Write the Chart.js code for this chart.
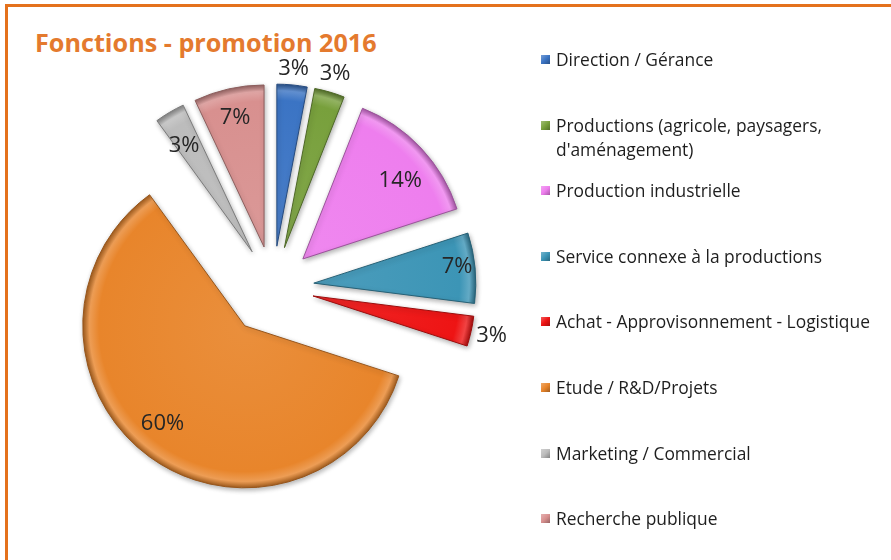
<!DOCTYPE html>
<html lang="fr">
<head>
  <meta charset="UTF-8">
  <title>Fonctions - promotion 2016</title>
  <script src="https://cdn.jsdelivr.net/npm/chart.js"></script>
  <style>
    body {
      margin: 0;
      background: #fff;
      font-family: 'Open Sans', Lato, sans-serif;
    }

    #page {
      position: relative;
      width: 891px;
      height: 560px;
      overflow: hidden;
    }

    /* cadre orange (seuls les bords haut et gauche sont visibles) */
    .cadre {
      position: absolute;
      left: 5px;
      top: 4px;
      width: 920px;
      height: 620px;
      border-top: 3px solid #e4711c;
      border-left: 3px solid #e4711c;
    }

    h1 {
      position: absolute;
      left: 35px;
      top: 25px;
      margin: 0;
      font-size: 25.2px;
      font-weight: 700;
      color: #e47a2e;
      white-space: nowrap;
    }

    #graphique {
      position: absolute;
      left: 0;
      top: 0;
    }

    .item {
      position: absolute;
      left: 541px;
      font-size: 17.4px;
      line-height: 24px;
      color: #1e1e1e;
      padding-left: 15px;
      white-space: nowrap;
    }

    .item i {
      position: absolute;
      left: 0;
      top: 8px;
      width: 9px;
      height: 9px;
    }
  </style>
</head>
<body>
  <div id="page">
    <div class="cadre"></div>
    <h1>Fonctions - promotion 2016</h1>
    <canvas id="graphique" width="891" height="560"></canvas>
    <div id="legende"></div>
  </div>

  <script>
    // données
    const categories = [
      'Direction / Gérance',
      ['Productions (agricole, paysagers,', "d'aménagement)"],
      'Production industrielle',
      'Service connexe à la productions',
      'Achat - Approvisonnement - Logistique',
      'Etude / R&D/Projets',
      'Marketing / Commercial',
      'Recherche publique'
    ];
    const pourcentages = [3, 3, 14, 7, 3, 60, 3, 7];
    const couleurs = ['#3b74c4', '#78a03c', '#ee7eee', '#3c95b6', '#ee1414', '#e8852b', '#bcbcbc', '#d8908f'];

    // mise en forme
    const RAYON = 162;
    const ECART = [41, 41, 41, 41, 41, 48, 41, 41];          // explosion de chaque part
    const POS_ETIQ = [1.1, 1.12, 0.77, 0.89, 1.13, 0.79, 0.78, 0.82]; // distance etiquette / rayon
    const DECAL_ETIQ = [0, 0, 4.5, -1, 0, 4, -2, 0];          // petit décalage angulaire (degrés)

    function melange(hex, cible, t) {
      const n = parseInt(hex.slice(1), 16);
      const r = (n >> 16) & 255, g = (n >> 8) & 255, b = n & 255;
      const m = c => Math.round(c + (cible - c) * t);
      return 'rgb(' + m(r) + ',' + m(g) + ',' + m(b) + ')';
    }

    // sommet de la part i une fois écartée du centre
    function sommet(chart, i) {
      const area = chart.chartArea;
      const total = pourcentages.reduce((a, b) => a + b, 0);
      let cumul = 0;
      for (let k = 0; k < i; k++) cumul += pourcentages[k];
      const a = -Math.PI / 2 + (cumul + pourcentages[i] / 2) / total * Math.PI * 2;
      return {
        x: (area.left + area.right) / 2 + Math.cos(a) * ECART[i],
        y: (area.top + area.bottom) / 2 + Math.sin(a) * ECART[i]
      };
    }

    function remplissage(context) {
      const i = context.dataIndex;
      const chart = context.chart;
      if (!chart.chartArea) return couleurs[i];
      const s = sommet(chart, i);
      const g = chart.ctx.createRadialGradient(s.x, s.y, 0, s.x, s.y, RAYON);
      g.addColorStop(0, melange(couleurs[i], 255, 0.08));
      g.addColorStop(0.9, couleurs[i]);
      g.addColorStop(0.96, melange(couleurs[i], 255, 0.2));
      g.addColorStop(1, melange(couleurs[i], 0, 0.3));
      return g;
    }

    const eclatement = {
      id: 'eclatement',
      afterDatasetsUpdate(chart) {
        chart.getDatasetMeta(0).data.forEach((arc, i) => {
          const a = (arc.startAngle + arc.endAngle) / 2;
          arc.x += Math.cos(a) * ECART[i];
          arc.y += Math.sin(a) * ECART[i];
        });
      },
      beforeDatasetsDraw(chart) {
        const ctx = chart.ctx;
        ctx.save();
        ctx.shadowColor = 'rgba(0,0,0,0.3)';
        ctx.shadowBlur = 5;
        ctx.shadowOffsetX = 1;
        ctx.shadowOffsetY = 2;
      },
      afterDatasetsDraw(chart) {
        const ctx = chart.ctx;
        ctx.restore();
        ctx.save();
        ctx.font = '22px "Open Sans", sans-serif';
        ctx.fillStyle = '#262626';
        ctx.textAlign = 'center';
        ctx.textBaseline = 'middle';
        chart.getDatasetMeta(0).data.forEach((arc, i) => {
          const a = (arc.startAngle + arc.endAngle) / 2 + DECAL_ETIQ[i] * Math.PI / 180;
          const r = POS_ETIQ[i] * RAYON;
          ctx.fillText(pourcentages[i] + '%', arc.x + Math.cos(a) * r, arc.y + Math.sin(a) * r);
        });
        ctx.restore();
      }
    };

    new Chart(document.getElementById('graphique'), {
      type: 'pie',
      data: {
        labels: categories,
        datasets: [{
          data: pourcentages,
          backgroundColor: remplissage,
          borderColor: couleurs.map(c => melange(c, 0, 0.35)),
          borderWidth: 1,
          radius: RAYON
        }]
      },
      options: {
        responsive: false,
        animation: false,
        events: [],
        layout: { padding: { left: 0, right: 345, top: 14, bottom: 0 } },
        plugins: {
          legend: { display: false },
          tooltip: { enabled: false }
        }
      },
      plugins: [eclatement]
    });

    // légende
    const legende = document.getElementById('legende');
    categories.forEach((cat, i) => {
      const item = document.createElement('div');
      item.className = 'item';
      item.style.top = (59 + i * 65.6 - 12) + 'px';
      const carre = document.createElement('i');
      carre.style.background = 'linear-gradient(135deg, ' + melange(couleurs[i], 255, 0.3) + ', ' + couleurs[i] + ' 50%, ' + melange(couleurs[i], 0, 0.3) + ')';
      item.appendChild(carre);
      const texte = Array.isArray(cat) ? cat : [cat];
      texte.forEach((ligne, k) => {
        if (k > 0) item.appendChild(document.createElement('br'));
        item.appendChild(document.createTextNode(ligne));
      });
      legende.appendChild(item);
    });
  </script>
</body>
</html>
